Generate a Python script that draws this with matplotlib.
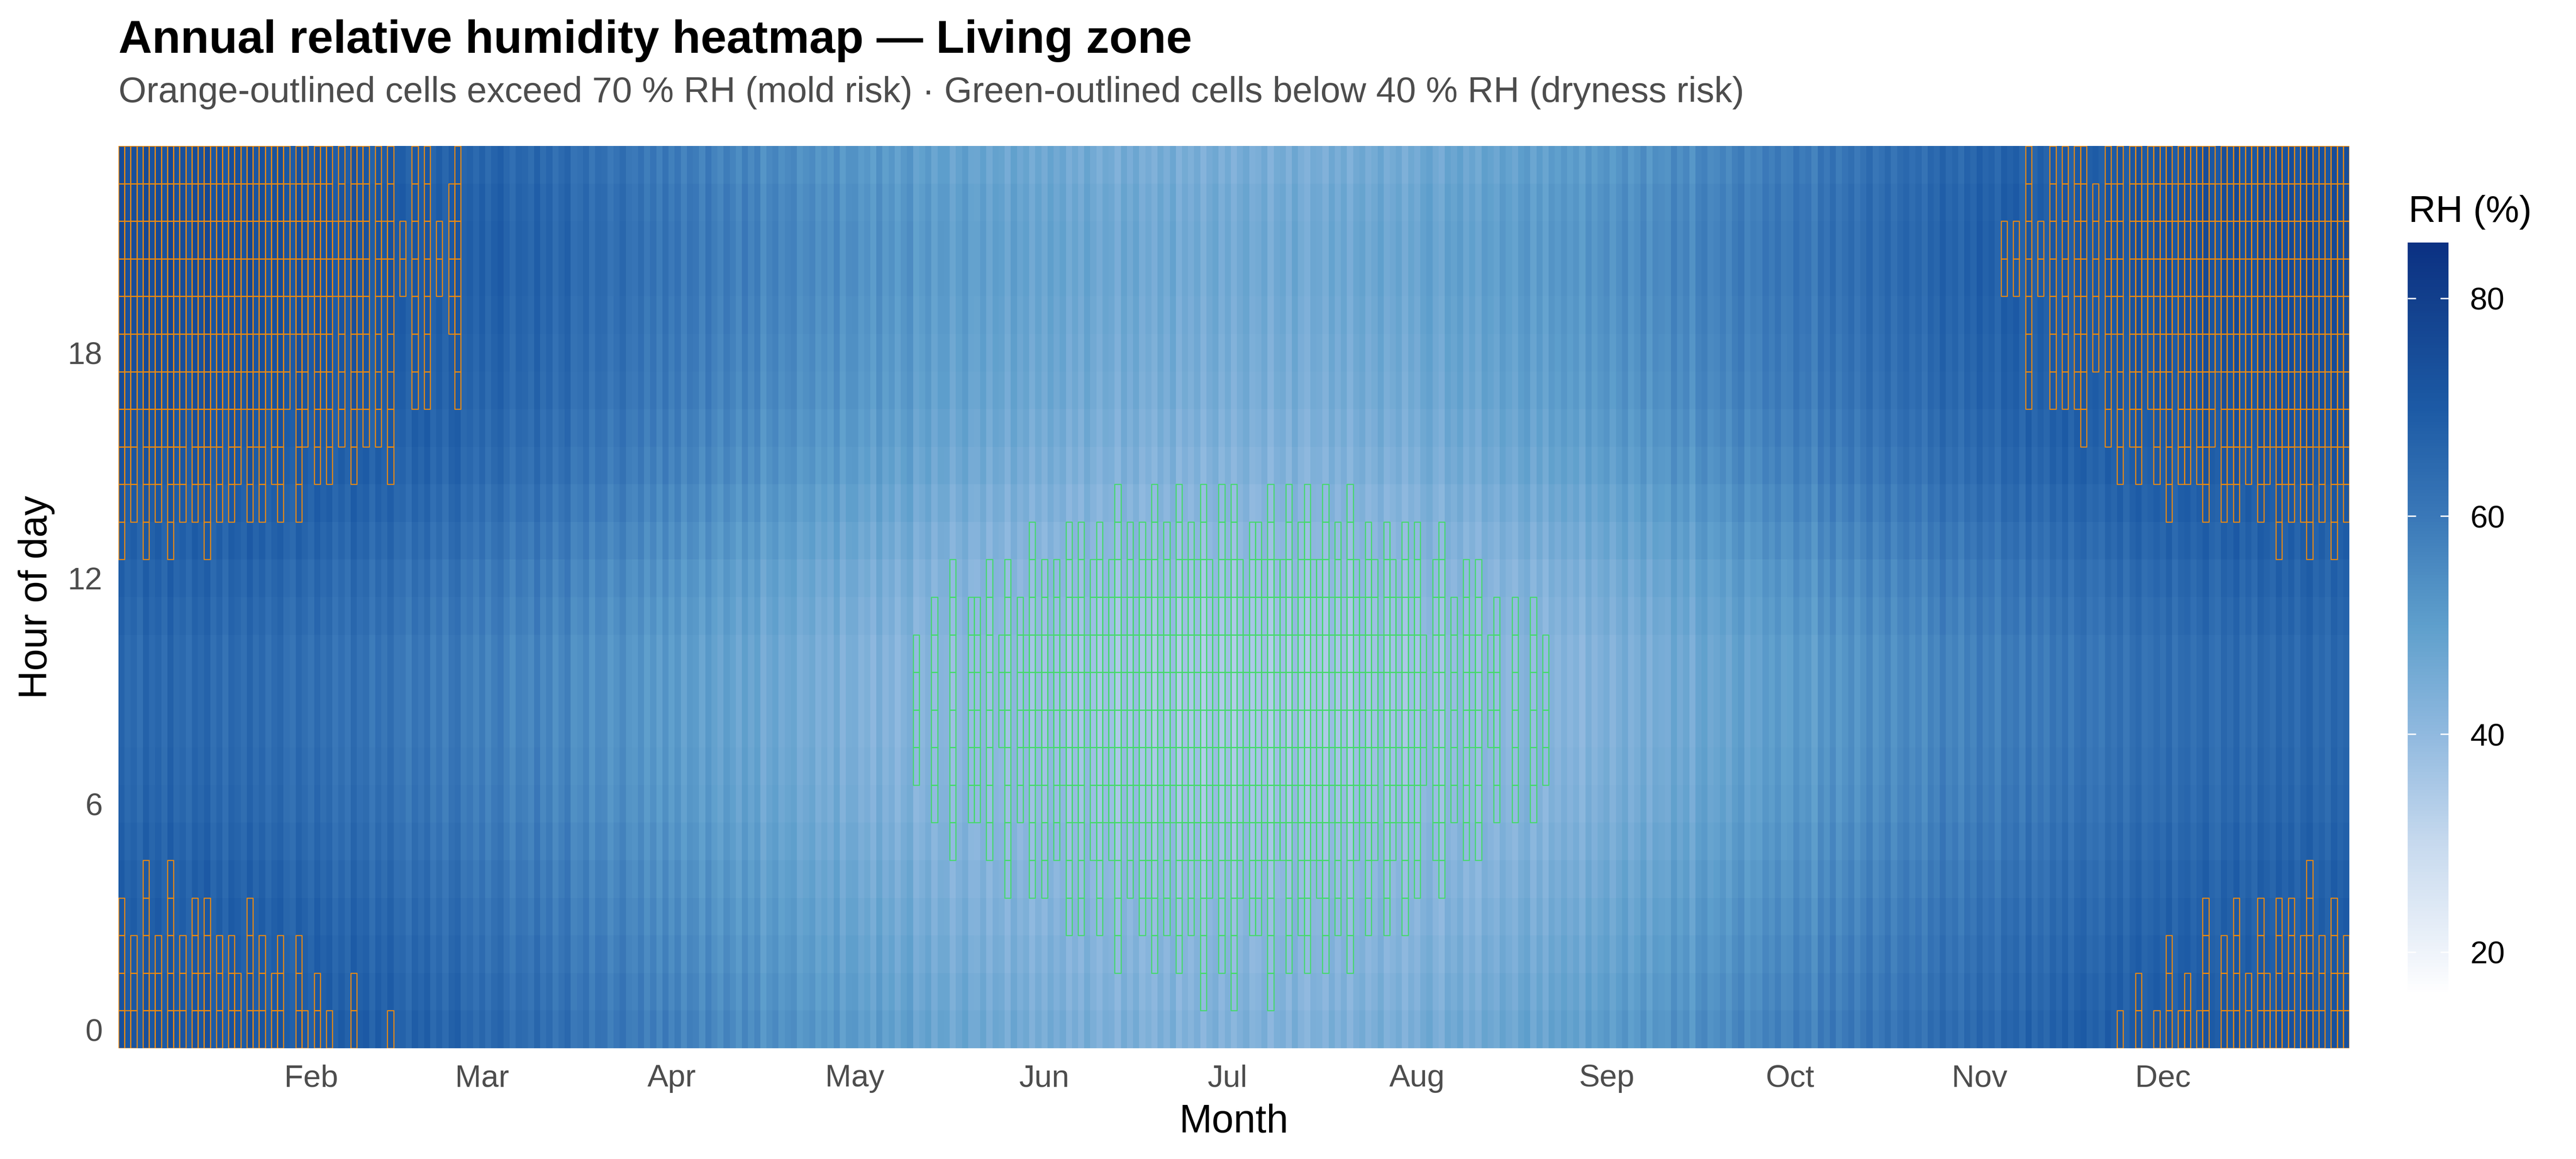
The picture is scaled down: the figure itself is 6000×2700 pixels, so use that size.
import numpy as np
import matplotlib
matplotlib.use("Agg")
import matplotlib.pyplot as plt
from matplotlib.patches import Rectangle
from matplotlib.collections import PatchCollection
from matplotlib.colors import LinearSegmentedColormap

plt.rcParams["font.family"] = ["Liberation Sans", "DejaVu Sans"]

# daily mean RH (%), one list per month
rh_jan = [71.9, 68.6, 70.3, 67.4, 72.2, 69.2, 71.0, 67.9, 72.6, 68.8,
          70.1, 67.3, 71.3, 69.5, 72.0, 67.6, 70.3, 66.7, 70.8, 69.5,
          67.5, 71.5, 68.1, 70.2, 66.8, 69.1, 70.5, 67.2, 66.0, 70.2, 68.1]
rh_feb = [66.0, 69.7, 67.1, 68.9, 65.2, 67.8, 65.1, 69.6, 66.7, 68.0,
          64.0, 67.9, 65.4, 68.6, 64.9, 65.5, 62.7, 66.8, 64.7, 67.3,
          62.7, 65.3, 62.1, 65.6, 66.9, 62.4, 63.8, 61.3]
rh_mar = [64.2, 60.5, 63.5, 65.0, 61.8, 59.2, 62.8, 61.9, 60.0, 64.1,
          59.9, 62.3, 58.4, 61.0, 63.2, 57.9, 59.0, 61.2, 56.9, 60.1,
          59.6, 56.1, 58.2, 60.4, 56.9, 56.2, 58.8, 54.9, 57.6, 54.1, 58.0]
rh_apr = [54.5, 57.3, 53.1, 56.4, 55.6, 52.5, 56.6, 53.7, 51.8, 55.4,
          53.5, 50.9, 55.0, 51.9, 54.4, 49.1, 52.0, 53.5, 50.4, 51.8,
          52.8, 48.9, 50.3, 51.6, 48.3, 50.2, 48.3, 51.6, 46.9, 49.8]
rh_may = [49.9, 47.1, 48.6, 45.8, 50.3, 46.5, 48.4, 45.1, 47.9, 49.6,
          44.4, 45.9, 48.0, 43.9, 46.7, 46.6, 42.7, 45.3, 47.4, 43.9,
          43.7, 46.2, 42.3, 45.4, 44.7, 41.6, 45.9, 43.0, 44.7, 41.2, 44.2]
rh_jun = [41.7, 44.9, 42.5, 44.4, 40.6, 43.2, 40.7, 44.7, 42.2, 40.3,
          43.1, 42.4, 39.4, 43.8, 41.1, 43.7, 40.1, 41.8, 39.6, 43.1,
          40.6, 43.7, 39.0, 42.0, 40.1, 42.5, 38.7, 41.7, 43.2, 39.6]
rh_jul = [42.3, 38.9, 41.5, 43.3, 40.0, 40.8, 42.9, 38.7, 42.0, 42.6,
          39.5, 43.8, 40.6, 39.0, 42.3, 41.9, 39.7, 43.5, 40.6, 43.1,
          39.4, 42.6, 43.8, 40.6, 42.1, 44.6, 40.8, 42.0, 43.8, 40.3, 43.2]
rh_aug = [41.4, 44.2, 45.6, 42.5, 41.0, 45.4, 43.7, 46.0, 42.5, 44.5,
          42.1, 46.3, 44.9, 43.5, 46.9, 45.0, 43.5, 46.7, 48.1, 43.9,
          47.2, 44.1, 47.8, 46.1, 48.4, 46.2, 47.9, 45.0, 49.2, 46.5, 48.5]
rh_sep = [50.0, 46.6, 49.2, 51.3, 47.5, 49.3, 51.8, 47.5, 50.9, 50.1,
          49.4, 53.4, 50.3, 52.5, 48.5, 53.0, 54.3, 51.2, 52.1, 53.9,
          51.2, 54.4, 55.9, 52.0, 53.8, 52.9, 56.1, 54.4, 57.0, 53.8]
rh_oct = [54.4, 57.9, 55.5, 56.8, 53.3, 58.7, 56.2, 59.5, 55.3, 57.6,
          59.6, 56.1, 58.4, 60.9, 57.1, 58.8, 61.4, 57.5, 60.3, 61.8,
          59.2, 61.1, 58.3, 62.4, 60.6, 64.1, 60.8, 62.5, 59.6, 63.4, 61.4]
rh_nov = [65.0, 62.2, 63.7, 60.8, 65.4, 63.8, 65.5, 62.1, 66.8, 62.7,
          65.2, 63.1, 66.6, 64.3, 67.4, 63.6, 66.8, 67.8, 64.7, 66.2,
          64.1, 68.0, 66.0, 68.7, 64.9, 68.0, 69.6, 66.0, 67.1, 68.8]
rh_dec = [67.1, 70.2, 65.9, 69.0, 69.7, 66.9, 69.0, 71.2, 67.8, 66.5,
          70.4, 68.7, 71.5, 67.6, 69.8, 67.1, 71.2, 69.6, 68.2, 71.7,
          69.0, 71.2, 67.8, 70.7, 72.2, 68.5, 70.2, 67.7, 71.6, 69.4, 71.0]

# hour-of-day deviation from the daily mean (hours 0..23)
hour_offset = [2.0, 1.0, 0.0, -1.0, -2.0, -3.0, -4.0, -4.5, -5.0, -5.0, -5.0, -4.0,
               -3.0, -1.5, 0.0, 1.5, 2.5, 3.5, 4.0, 4.5, 5.0, 5.0, 4.5, 3.5]

month_labels = ["Feb", "Mar", "Apr", "May", "Jun", "Jul", "Aug", "Sep", "Oct", "Nov", "Dec"]
month_start_day = [32, 60, 91, 121, 152, 182, 213, 244, 274, 305, 335]
mold_limit = 70
dry_limit = 40

daily = np.array(rh_jan + rh_feb + rh_mar + rh_apr + rh_may + rh_jun +
                 rh_jul + rh_aug + rh_sep + rh_oct + rh_nov + rh_dec)
days = np.arange(1, len(daily) + 1)
hours = np.arange(24)
rh = daily[None, :] + np.array(hour_offset)[:, None]   # shape (24, 365)

# blue ramp sampled from the reference legend
vmin, vmax = 16, 85.1
ramp = [(16, "#ffffff"), (20, "#eef3fa"), (30, "#c6d9ee"), (40, "#90b9df"),
        (50, "#5e9fcc"), (60, "#3a78b8"), (70, "#1c5aa5"), (80, "#123f8c"), (85.1, "#0b3183")]
cmap = LinearSegmentedColormap.from_list(
    "rh_blues", [((v - vmin) / (vmax - vmin), c) for v, c in ramp])

fig = plt.figure(figsize=(20, 9), dpi=300)
ax = fig.add_axes([0.046, 0.0956, 0.866, 0.7784])
cax = fig.add_axes([0.9347, 0.141, 0.0158, 0.6496])

mesh = ax.pcolormesh(np.arange(0.5, len(days) + 1), np.arange(-0.5, 24),
                     rh, cmap=cmap, vmin=vmin, vmax=vmax, shading="flat")

# outline cells above / below the thresholds
for mask, col in [(rh > mold_limit, "#EC8A10"), (rh < dry_limit, "#44D96A")]:
    hh, dd = np.nonzero(mask)
    rects = [Rectangle((days[j] - 0.5, hours[i] - 0.5), 1, 1) for i, j in zip(hh, dd)]
    ax.add_collection(PatchCollection(rects, facecolor="none", edgecolor=col, linewidth=0.6))

ax.set_xlim(0.5, len(days) + 0.5)
ax.set_ylim(-0.5, 23.5)
ax.set_xticks(month_start_day)
ax.set_xticklabels(month_labels)
ax.set_yticks([0, 6, 12, 18])
ax.tick_params(length=0, labelsize=17.5, labelcolor="#4d4d4d")
ax.tick_params(axis="x", pad=9)
ax.tick_params(axis="y", pad=9)
for s in ax.spines.values():
    s.set_visible(False)
ax.set_xlabel("Month", fontsize=22, labelpad=6)
ax.set_ylabel("Hour of day", fontsize=22, labelpad=7)

cbar = fig.colorbar(mesh, cax=cax)
cbar.outline.set_visible(False)
cbar.set_ticks([20, 40, 60, 80])
cax.tick_params(length=0, labelsize=17.5, pad=12)
cax.hlines([20, 40, 60, 80], 0, 0.2, color="white", lw=0.8)
cax.hlines([20, 40, 60, 80], 0.8, 1, color="white", lw=0.8)
fig.text(0.935, 0.8085, "RH (%)", fontsize=21, va="baseline")

fig.text(0.046, 0.9544, "Annual relative humidity heatmap \u2014 Living zone",
         fontsize=26, fontweight="bold", va="baseline")
fig.text(0.046, 0.9119,
         "Orange-outlined cells exceed 70 % RH (mold risk) \u00b7 Green-outlined cells below 40 % RH (dryness risk)",
         fontsize=20, color="#4d4d4d", va="baseline")

fig.savefig("out.png", dpi=300)
